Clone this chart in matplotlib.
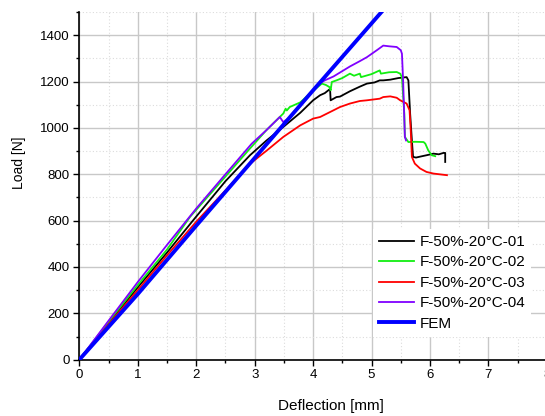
import matplotlib
matplotlib.use("Agg")
import matplotlib.pyplot as plt
from matplotlib.ticker import MultipleLocator

plt.rcParams['font.family'] = ['Liberation Sans', 'DejaVu Sans']

# ---- data ----
x01 = [0, 0.5, 1.0, 1.5, 1.95, 2.5, 2.92, 3.2, 3.49, 3.78, 4.0, 4.12, 4.2, 4.29, 4.30, 4.40, 4.46,
       4.63, 4.8, 4.92, 5.05, 5.14, 5.2, 5.32, 5.46, 5.6, 5.63, 5.66, 5.69, 5.71, 5.76, 5.83, 5.94,
       6.06, 6.15, 6.23, 6.26, 6.26]
y01 = [0, 158, 312, 462, 602, 770, 882, 945, 1004, 1065, 1119, 1141, 1150, 1168, 1119, 1133, 1135,
       1158, 1178, 1191, 1196, 1205, 1205, 1208, 1215, 1219, 1205, 1062, 946, 875, 872, 876, 882,
       889, 886, 892, 892, 853]

x02 = [0, 0.5, 1.0, 1.5, 1.894, 2.5, 2.92, 3.2, 3.49, 3.53, 3.55, 3.6, 3.78, 4.0, 4.15, 4.22, 4.28,
       4.30, 4.32, 4.40, 4.5, 4.63, 4.7, 4.80, 4.82, 5.0, 5.14, 5.16, 5.3, 5.43, 5.49, 5.52, 5.56,
       5.57, 5.63, 5.75, 5.89, 5.92, 5.97, 6.03, 6.09]
y02 = [0, 163, 322, 475, 616, 790, 911, 990, 1062, 1083, 1075, 1090, 1110, 1160, 1191, 1185, 1176,
       1162, 1198, 1205, 1215, 1234, 1225, 1234, 1219, 1232, 1248, 1234, 1240, 1241, 1234, 1219, 1062,
       961, 939, 940, 939, 932, 903, 882, 878]

x03 = [0, 0.5, 1.0, 1.5, 2.0, 2.5, 2.92, 3.21, 3.49, 3.78, 4.0, 4.12, 4.35, 4.46, 4.63, 4.8, 4.92,
       5.14, 5.2, 5.32, 5.43, 5.49, 5.6, 5.65, 5.67, 5.69, 5.74, 5.83, 5.94, 6.06, 6.29]
y03 = [0, 152, 300, 450, 595, 730, 845, 903, 961, 1011, 1040, 1047, 1076, 1090, 1105, 1116, 1119,
       1126, 1133, 1136, 1130, 1119, 1105, 1076, 990, 875, 846, 825, 810, 803, 796]

x04 = [0, 0.5, 1.0, 1.5, 2.0, 2.5, 2.95, 3.2, 3.43, 3.49, 3.6, 3.8, 4.06, 4.2, 4.35, 4.5, 4.63, 4.8,
       4.92, 5.09, 5.2, 5.3, 5.43, 5.5, 5.52, 5.54, 5.57, 5.59]
y04 = [0, 168, 335, 495, 652, 800, 932, 990, 1047, 1025, 1045, 1100, 1183, 1205, 1222, 1245, 1265,
       1288, 1305, 1335, 1355, 1352, 1349, 1335, 1320, 1205, 961, 946]

x_fem = [0, 1.0, 2.0, 4.0, 5.17]
y_fem = [0, 283, 578, 1162, 1500]

labels = ['F-50%-20°C-01', 'F-50%-20°C-02', 'F-50%-20°C-03', 'F-50%-20°C-04', 'FEM']
colors = ['#000000', '#11ee11', '#ff0000', '#8000ff', '#0000ff']

fig = plt.figure(figsize=(5.45, 4.16), dpi=100)
ax = fig.add_axes([0.1455, 0.1353, 0.858, 0.8359])

series = [(x01, y01), (x02, y02), (x03, y03), (x04, y04)]
for (xs, ys), lab, c in zip(series, labels[:4], colors[:4]):
    ax.plot(xs, ys, color=c, lw=1.3, label=lab, zorder=3)
ax.plot(x_fem, y_fem, color=colors[4], lw=2.8, label=labels[4], zorder=4)

ax.set_xlim(0, 8)
ax.set_ylim(0, 1500)
ax.xaxis.set_major_locator(MultipleLocator(1))
ax.xaxis.set_minor_locator(MultipleLocator(0.5))
ax.yaxis.set_major_locator(MultipleLocator(200))
ax.yaxis.set_minor_locator(MultipleLocator(100))

ax.grid(which='major', color='#c8c8c8', lw=1.0, zorder=0)
ax.grid(which='minor', color='#dcdcdc', lw=0.8, ls=(0, (1, 2)), zorder=0)
ax.set_axisbelow(True)

for s in ['top', 'right']:
    ax.spines[s].set_visible(False)
for s in ['left', 'bottom']:
    ax.spines[s].set_linewidth(1.2)

ax.tick_params(which='major', direction='out', length=4, width=1, labelsize=9.5, pad=3)
ax.tick_params(which='minor', direction='out', length=2.5, width=1)

ax.set_xlabel('Deflection [mm]', fontsize=11)
ax.set_ylabel('Load [N]', fontsize=10)
ax.xaxis.set_label_coords(0.538, -0.114)
ax.yaxis.set_label_coords(-0.115, 0.567)

leg = ax.legend(loc='upper left', bbox_to_anchor=(0.628, 0.376), fontsize=11,
                frameon=True, facecolor='white', edgecolor='none', framealpha=1,
                fancybox=False, handlelength=2.3, handletextpad=0.35, labelspacing=0.42,
                borderpad=0.4, borderaxespad=0)
leg.set_zorder(5)

fig.savefig('out.png', dpi=100)
